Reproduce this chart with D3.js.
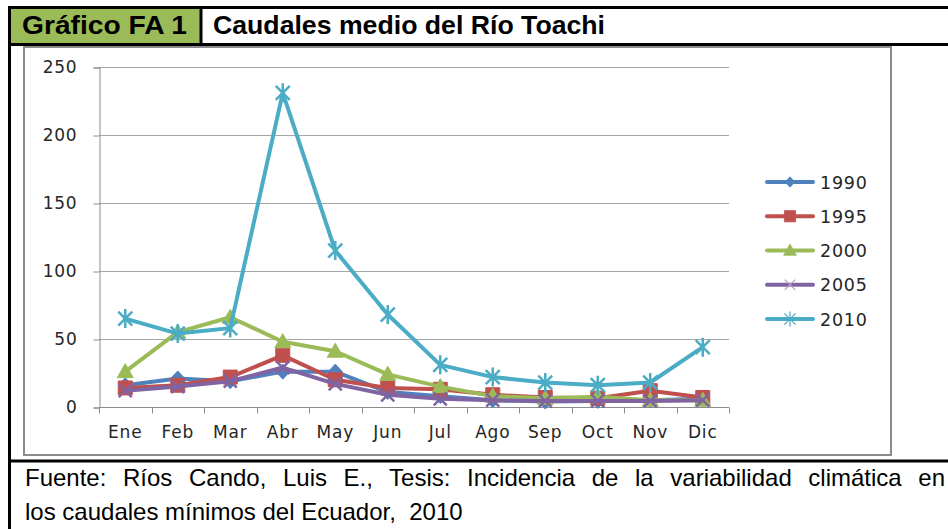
<!DOCTYPE html>
<html lang="es">
<head>
<meta charset="utf-8">
<title>Caudales medio del Río Toachi</title>
<script src="https://cdn.jsdelivr.net/npm/d3@7/dist/d3.min.js"></script>
<style>
  body { margin: 0; background: #fff; }
  svg { display: block; }
</style>
</head>
<body>
<script>
// meses y caudales medios (m3/s)
var months = ["Ene", "Feb", "Mar", "Abr", "May", "Jun", "Jul", "Ago", "Sep", "Oct", "Nov", "Dic"];
var years = ["1990", "1995", "2000", "2005", "2010"];
var q1990 = [16, 21, 19, 26, 26, 11, 8, 5, 4, 4.5, 5, 6];
var q1995 = [14, 16, 22, 38, 20, 14, 13, 9, 7, 6.5, 12, 7];
var q2000 = [26, 55, 66, 48, 41, 24, 15, 8, 6.5, 7.5, 5, 5];
var q2005 = [12, 15, 19, 29, 17, 9, 6, 5, 4.5, 4.5, 4.5, 5];
var q2010 = [65, 54, 58, 231, 115, 68, 31, 22, 18, 16, 18, 44];
var yTicks = [0, 50, 100, 150, 200, 250];

var seriesValues = [q1990, q1995, q2000, q2005, q2010];
var colors = ["#4f81bd", "#c0504d", "#9bbb59", "#8064a2", "#4bacc6"];

// marker shapes, centred on 0,0
var markers = [
  { d: "M0,-7.5L7,0L0,7.5L-7,0Z", fill: true },
  { d: "M-7,-7H7V7H-7Z", fill: true },
  { d: "M0,-8L8,6L-8,6Z", fill: true },
  { d: "M-6.5,-6.5L6.5,6.5M-6.5,6.5L6.5,-6.5", fill: false },
  { d: "M-7,-7L7,7M-7,7L7,-7M0,-9.5V9.5", fill: false }
];

var w = 948, h = 529;
var svg = d3.select("body").append("svg")
  .attr("width", w)
  .attr("height", h);

svg.append("rect").attr("width", w).attr("height", h).attr("fill", "#fff");

// ---- table frame ----
svg.append("rect")
  .attr("x", 11).attr("y", 9)
  .attr("width", 189).attr("height", 34)
  .attr("fill", "#9bbb59");

var frame = svg.append("g").attr("stroke", "#000").attr("stroke-width", 3);
frame.append("line").attr("x1", 8).attr("x2", w).attr("y1", 7.5).attr("y2", 7.5);
frame.append("line").attr("x1", 8).attr("x2", w).attr("y1", 44.5).attr("y2", 44.5);
frame.append("line").attr("x1", 8).attr("x2", w).attr("y1", 461).attr("y2", 461);
frame.append("line").attr("x1", 9.5).attr("x2", 9.5).attr("y1", 6).attr("y2", h);
frame.append("line").attr("x1", 201).attr("x2", 201).attr("y1", 7).attr("y2", 44);

svg.append("text")
  .attr("x", 22).attr("y", 34)
  .attr("font-family", "'Liberation Sans', Arial, sans-serif")
  .attr("font-weight", "bold")
  .attr("font-size", "26px")
  .attr("textLength", 165)
  .attr("lengthAdjust", "spacingAndGlyphs")
  .attr("fill", "#000")
  .text("Gráfico FA 1");

svg.append("text")
  .attr("x", 213).attr("y", 34)
  .attr("font-family", "'Liberation Sans', Arial, sans-serif")
  .attr("font-weight", "bold")
  .attr("font-size", "26px")
  .attr("textLength", 392)
  .attr("lengthAdjust", "spacingAndGlyphs")
  .attr("fill", "#000")
  .text("Caudales medio del Río Toachi");

// footer, first line justified by widening the word gaps
var foot1 = svg.append("text")
  .attr("x", 25).attr("y", 486)
  .attr("font-family", "'Liberation Sans', Arial, sans-serif")
  .attr("font-size", "24px")
  .attr("fill", "#000")
  .text("Fuente: Ríos Cando, Luis E., Tesis: Incidencia de la variabilidad climática en");
var natural = foot1.node().getComputedTextLength();
var gaps = foot1.text().split(" ").length - 1;
foot1.attr("word-spacing", Math.max(0, (920 - natural) / gaps) + "px");

svg.append("text")
  .attr("x", 25).attr("y", 520)
  .attr("font-family", "'Liberation Sans', Arial, sans-serif")
  .attr("font-size", "24px")
  .attr("fill", "#000")
  .attr("xml:space", "preserve")
  .text("los caudales mínimos del Ecuador,  2010");

// ---- chart area ----
svg.append("rect")
  .attr("x", 24).attr("y", 47)
  .attr("width", 867).attr("height", 408)
  .attr("fill", "#fff")
  .attr("stroke", "#8c8c8c")
  .attr("stroke-width", 2);

var xScale = d3.scaleBand().domain(months).range([99, 729]);
var yScale = d3.scaleLinear().domain([0, 250]).range([407, 67]);

var labelFont = "'DejaVu Sans', Verdana, sans-serif";

// gridlines
svg.append("g")
  .selectAll("line")
  .data(yTicks.slice(1))
  .enter()
  .append("line")
  .attr("x1", 99).attr("x2", 729)
  .attr("y1", function(d) { return yScale(d) + 0.5; })
  .attr("y2", function(d) { return yScale(d) + 0.5; })
  .attr("stroke", "#a6a6a6")
  .attr("stroke-width", 1);

// y axis
var yAxis = svg.append("g")
  .attr("transform", "translate(99.5,0.5)")
  .call(d3.axisLeft(yScale).tickValues(yTicks).tickSize(6).tickPadding(16));
yAxis.select(".domain").attr("stroke", "#8c8c8c");
yAxis.selectAll(".tick line").attr("stroke", "#8c8c8c");
yAxis.selectAll("text")
  .attr("font-family", labelFont)
  .attr("font-size", "17px")
  .attr("letter-spacing", "0.8px")
  .attr("fill", "#262626");

// x axis with tick marks on the category boundaries
var xAxis = svg.append("g").attr("transform", "translate(0,407.5)");
xAxis.append("line")
  .attr("x1", 99).attr("x2", 729)
  .attr("stroke", "#8c8c8c");
xAxis.selectAll("line.tk")
  .data(months.concat(["end"]))
  .enter()
  .append("line")
  .attr("class", "tk")
  .attr("x1", function(d, i) { return Math.round(99 + i * xScale.step()) + 0.5; })
  .attr("x2", function(d, i) { return Math.round(99 + i * xScale.step()) + 0.5; })
  .attr("y1", 0).attr("y2", 6)
  .attr("stroke", "#8c8c8c");
xAxis.selectAll("text")
  .data(months)
  .enter()
  .append("text")
  .attr("x", function(d) { return xScale(d) + xScale.bandwidth() / 2; })
  .attr("y", 30)
  .attr("text-anchor", "middle")
  .attr("font-family", labelFont)
  .attr("font-size", "17px")
  .attr("letter-spacing", "0.8px")
  .attr("fill", "#262626")
  .text(function(d) { return d; });

// ---- series ----
var line = d3.line()
  .x(function(d, i) { return xScale(months[i]) + xScale.bandwidth() / 2; })
  .y(function(d) { return yScale(d); });

seriesValues.forEach(function(vals, s) {
  var g = svg.append("g");
  g.append("path")
    .attr("d", line(vals))
    .attr("fill", "none")
    .attr("stroke", colors[s])
    .attr("stroke-width", 4)
    .attr("stroke-linejoin", "round")
    .attr("stroke-linecap", "round");
  g.selectAll("path.mk")
    .data(vals)
    .enter()
    .append("path")
    .attr("class", "mk")
    .attr("transform", function(d, i) {
      return "translate(" + (xScale(months[i]) + xScale.bandwidth() / 2) + "," + yScale(d) + ")";
    })
    .attr("d", markers[s].d)
    .attr("fill", markers[s].fill ? colors[s] : "none")
    .attr("stroke", colors[s])
    .attr("stroke-width", markers[s].fill ? 1 : 2.5);
});

// ---- legend ----
var legend = svg.append("g");
var legendY = d3.scaleLinear().domain([0, 4]).range([182, 319]);
years.forEach(function(yr, s) {
  var gy = legendY(s);
  legend.append("line")
    .attr("x1", 767).attr("x2", 813)
    .attr("y1", gy).attr("y2", gy)
    .attr("stroke", colors[s])
    .attr("stroke-width", 4)
    .attr("stroke-linecap", "round");
  legend.append("path")
    .attr("transform", "translate(790," + gy + ") scale(" + (s === 0 ? 0.7 : 0.8) + ")")
    .attr("d", markers[s].d)
    .attr("fill", markers[s].fill ? colors[s] : "none")
    .attr("stroke", s === 3 ? "#b3a2c7" : colors[s])
    .attr("stroke-width", markers[s].fill ? 1 : 1.5);
  legend.append("text")
    .attr("x", 820).attr("y", gy + 6.5)
    .attr("font-family", labelFont)
    .attr("font-size", "17.5px")
    .attr("letter-spacing", "0.8px")
    .attr("fill", "#262626")
    .text(yr);
});
</script>
</body>
</html>
